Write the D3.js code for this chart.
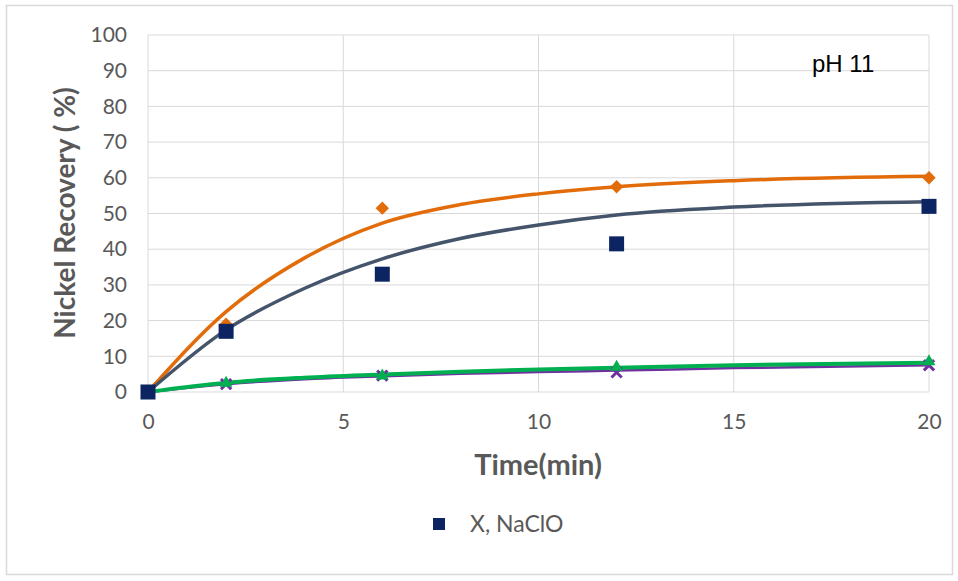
<!DOCTYPE html>
<html><head><meta charset="utf-8">
<script src="https://cdn.jsdelivr.net/npm/d3@7"></script>
<style>body{margin:0;background:#fff}svg{display:block}</style>
</head><body>
<script>
// Measured data (markers)
const times = [0, 2, 6, 12, 20];
const naclo = [0, 17, 33, 41.5, 52];          // navy squares  "X, NaClO"
const orangeVals = [0, 19, 51.5, 57.5, 60];   // orange diamonds
const greenVals = [0, 2.5, 4.5, 7, 8.5];      // green triangles
const purpleVals = [0, 2.2, 4.6, 5.5, 7.5];   // purple crosses
// Trend curves
const trendT = [0, 2, 4, 6, 8, 10, 12, 15, 20];
const orangeTrend = [0, 22.5, 37.5, 47.3, 52.5, 55.5, 57.5, 59.2, 60.4];
const slateTrend = [0, 17.4, 29, 37.3, 43, 46.8, 49.6, 51.8, 53.3];
const greenTrend = [0, 2.6, 4.0, 4.9, 5.7, 6.3, 6.8, 7.5, 8.2];
const purpleTrend = [0, 2.2, 3.6, 4.4, 5.1, 5.6, 6.0, 6.7, 7.5];
const xTicks = [0, 5, 10, 15, 20];
const yTicks = [0, 10, 20, 30, 40, 50, 60, 70, 80, 90, 100];
const legendLabel = "X, NaClO";
const annotation = "pH 11";

const W = 958, H = 581;
const FONT = "Lato, 'Open Sans', sans-serif";
const svg = d3.select("body").append("svg").attr("width", W).attr("height", H);
svg.append("rect").attr("x", 6.5).attr("y", 5.5).attr("width", 946).attr("height", 569)
  .attr("fill", "#fff").attr("stroke", "#d9d9d9").attr("stroke-width", 1.5);

const x = d3.scaleLinear().domain([0, 20]).range([148, 929]);
const y = d3.scaleLinear().domain([0, 100]).range([392, 35]);

const g = svg.append("g");
g.selectAll(".hg").data(yTicks).join("line")
  .attr("x1", x(0)).attr("x2", x(20)).attr("y1", d => y(d)).attr("y2", d => y(d))
  .attr("stroke", "#d9d9d9").attr("stroke-width", 1);
g.selectAll(".vg").data(xTicks).join("line")
  .attr("x1", d => x(d)).attr("x2", d => x(d)).attr("y1", y(0)).attr("y2", y(100))
  .attr("stroke", "#d9d9d9").attr("stroke-width", 1);

const yAxis = d3.axisLeft(y).tickValues(yTicks).tickSize(0).tickPadding(21);
const ya = svg.append("g").attr("transform", `translate(${x(0)},0)`).call(yAxis);
const xAxis = d3.axisBottom(x).tickValues(xTicks).tickSize(0).tickPadding(22);
const xa = svg.append("g").attr("transform", `translate(0,${y(0)})`).call(xAxis);
[ya, xa].forEach(a => {
  a.select(".domain").remove();
  a.selectAll("text").attr("font-family", FONT).attr("font-size", 21).attr("fill", "#595959");
});

svg.append("text").attr("x", 538).attr("y", 475).attr("text-anchor", "middle")
  .attr("font-family", FONT).attr("font-weight", "bold")
  .attr("font-size", 29).attr("fill", "#595959").text("Time(min)");
svg.append("text").attr("transform", "translate(75,213) rotate(-90)").attr("text-anchor", "middle")
  .attr("font-family", FONT).attr("font-weight", "bold")
  .attr("font-size", 28).attr("fill", "#595959").text("Nickel Recovery ( %)");

const line = d3.line().x(d => x(d[0])).y(d => y(d[1])).curve(d3.curveMonotoneX);
function trend(vals, color, w) {
  svg.append("path").datum(trendT.map((t, i) => [t, vals[i]]))
    .attr("d", line).attr("fill", "none").attr("stroke", color).attr("stroke-width", w)
    .attr("stroke-linecap", "round");
}
trend(orangeTrend, "#E36C0A", 3.5);
trend(slateTrend, "#44546A", 3.5);
trend(purpleTrend, "#7030A0", 2.5);
trend(greenTrend, "#00B050", 4);

const pts = v => times.map((t, i) => [t, v[i]]);
svg.append("g").selectAll("path").data(pts(purpleVals)).join("path")
  .attr("transform", d => `translate(${x(d[0])},${y(d[1])})`)
  .attr("d", d3.symbol(d3.symbolX, 70)).attr("stroke", "#7030A0").attr("stroke-width", 3).attr("fill", "none");
svg.append("g").selectAll("path").data(pts(greenVals)).join("path")
  .attr("transform", d => `translate(${x(d[0])},${y(d[1])})`)
  .attr("d", d3.symbol(d3.symbolTriangle, 70)).attr("fill", "#00B050");
svg.append("g").selectAll("path").data(pts(orangeVals)).join("path")
  .attr("transform", d => `translate(${x(d[0])},${y(d[1])}) rotate(45)`)
  .attr("d", d3.symbol(d3.symbolSquare, 90)).attr("fill", "#E36C0A");
svg.append("g").selectAll("rect").data(pts(naclo)).join("rect")
  .attr("x", d => x(d[0]) - 7.5).attr("y", d => y(d[1]) - 7.5).attr("width", 15).attr("height", 15)
  .attr("fill", "#0C2461");

svg.append("rect").attr("x", 433).attr("y", 518).attr("width", 12).attr("height", 12).attr("fill", "#0C2461");
svg.append("text").attr("x", 470).attr("y", 532).attr("font-family", FONT)
  .attr("font-size", 23).attr("fill", "#595959").text(legendLabel);

svg.append("text").attr("x", 812).attr("y", 72).attr("font-family", "'Liberation Sans', Arial, sans-serif")
  .attr("font-size", 24).attr("fill", "#000").text(annotation);
</script>
</body></html>
